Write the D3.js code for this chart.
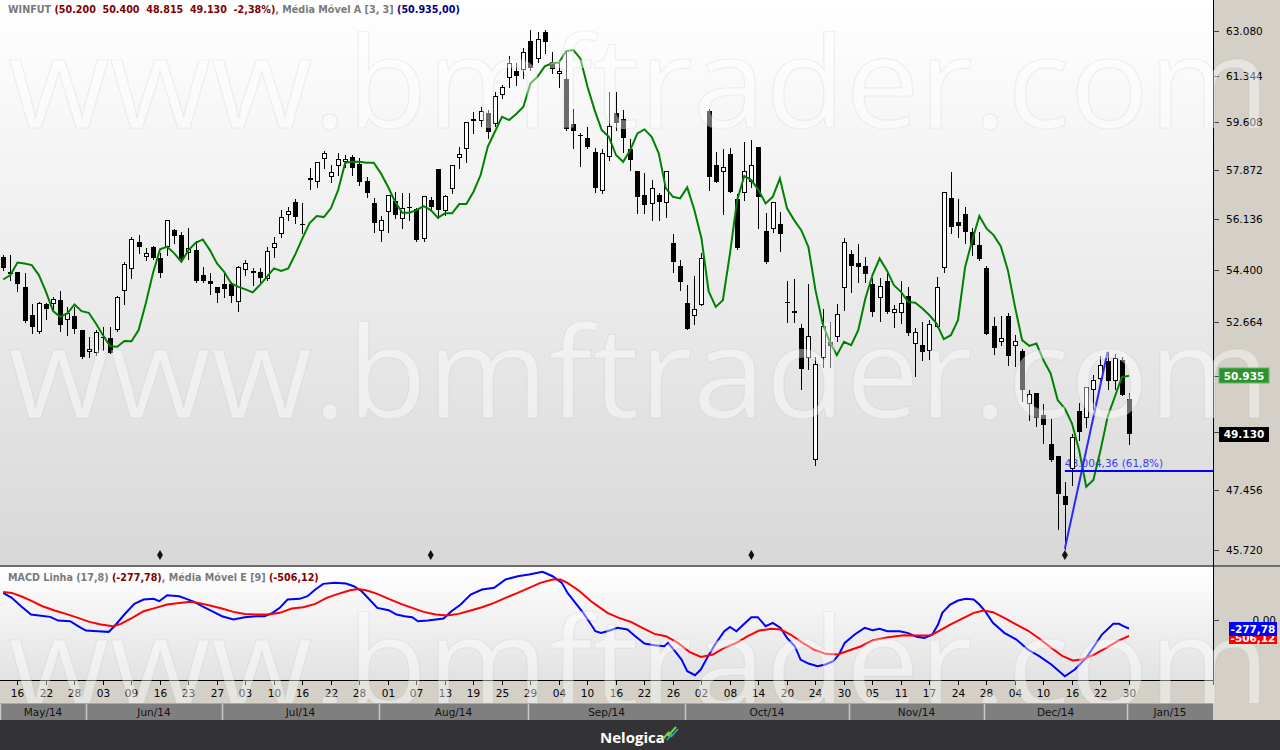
<!DOCTYPE html>
<html><head><meta charset="utf-8">
<script src="https://cdn.jsdelivr.net/npm/d3@7"></script>
<style>html,body{margin:0;padding:0;background:#d4d0c8;overflow:hidden}svg{display:block}</style>
</head><body>
<svg id="chart" width="1280" height="750"></svg>
<script>
// ---------------- DATA ----------------
const dates = ["14/05","15/05","16/05","19/05","20/05","21/05","22/05","23/05","26/05","27/05","28/05","29/05","30/05",
"02/06","03/06","04/06","05/06","06/06","09/06","10/06","11/06","13/06","16/06","17/06","18/06","20/06","23/06","24/06","25/06","26/06","27/06","30/06",
"01/07","02/07","03/07","04/07","07/07","08/07","10/07","11/07","14/07","15/07","16/07","17/07","18/07","21/07","22/07","23/07","24/07","25/07","28/07","29/07","30/07","31/07",
"01/08","04/08","05/08","06/08","07/08","08/08","11/08","12/08","13/08","14/08","15/08","18/08","19/08","20/08","21/08","22/08","25/08","26/08","27/08","28/08","29/08",
"01/09","02/09","03/09","04/09","05/09","08/09","09/09","10/09","11/09","12/09","15/09","16/09","17/09","18/09","19/09","22/09","23/09","24/09","25/09","26/09","29/09","30/09",
"01/10","02/10","03/10","06/10","07/10","08/10","09/10","10/10","13/10","14/10","15/10","16/10","17/10","20/10","21/10","22/10","23/10","24/10","27/10","28/10","29/10","30/10","31/10",
"03/11","04/11","05/11","06/11","07/11","10/11","11/11","12/11","13/11","14/11","17/11","18/11","19/11","21/11","24/11","25/11","26/11","27/11","28/11",
"01/12","02/12","03/12","04/12","05/12","08/12","09/12","10/12","11/12","12/12","15/12","16/12","17/12","18/12","19/12","22/12","23/12","26/12","29/12","30/12"];

const open = [54830,54275,54320,53815,52885,52335,53250,53250,53380,52725,
52855,52400,51685,51655,52170,52140,52400,53680,54420,55340,
54825,55170,54790,55170,55750,55580,54965,55065,54220,54015,
53815,53915,53915,53315,54385,54350,54320,54085,55135,55615,
56275,56730,55960,57500,57440,58265,57605,58010,58155,58335,
58085,57475,56695,55730,56390,56765,56135,56555,56485,55430,
56800,57905,56425,57180,58300,58615,59730,59655,59950,59545,
60625,61255,61535,61570,62690,61980,63030,61865,61410,61230,
59545,59140,59040,58520,57130,58325,59940,59730,58615,57830,
56965,56650,56965,56685,55295,54520,53275,52855,53215,60025,
58035,57795,58435,56825,57035,57450,58690,55705,55775,55950,
53315,53020,52455,51515,48335,51515,52000,52180,53780,54930,
54610,54520,53905,53440,54015,52975,52975,53515,51965,51905,
51730,52505,54445,56860,56020,56310,55695,55235,54445,52525,
52000,52855,51880,51730,50045,50380,49705,48840,48455,47270,
48085,49835,49605,50505,50850,51410,50775,51430,50200];

const high = [54900,54900,54330,54285,53250,53315,53285,53485,53680,53150,
53150,52400,52170,52400,52495,52495,53515,54655,55510,55580,
55135,55200,54965,56100,55785,55685,55820,55375,54485,54285,
53815,54285,53980,54520,54725,54455,54455,55170,55510,56450,
56555,56835,56695,57940,58165,58555,58050,58480,58410,58410,
58300,57625,56870,56240,56975,57095,57045,57045,56520,56940,
56915,57905,56975,58050,58710,59615,60000,60175,60060,60750,
61000,62110,61830,62405,63120,63030,63120,62275,61955,62275,
60090,59200,59420,58650,58615,60750,60750,60060,58980,57830,
57750,57510,57035,57830,55615,54725,53880,54185,54955,60090,
58530,58615,58650,57010,58895,58955,58690,56335,56740,56390,
54015,54085,52615,53905,51535,53075,52670,53250,55465,55065,
55270,54835,54105,54105,54330,53215,54015,53825,52455,52670,
52745,54140,57070,57805,56825,56565,55810,55695,54520,52830,
52855,52965,52235,51775,50485,50380,50065,49600,48455,47690,
49145,50085,50585,50955,51560,51700,51620,51535,50400];

const low = [54385,54050,53690,52660,52300,52300,52755,53085,52365,52235,
52300,51495,51525,51590,51750,51650,52365,53250,54115,54965,
54725,54760,54150,54895,55305,54750,54760,53980,53980,53580,
53315,53485,53315,53020,54220,53880,53980,54050,54825,55510,
56100,55995,55650,57190,57270,57940,57450,57690,57975,57690,
57330,56915,55695,55385,55695,56160,55820,56100,55385,55385,
56450,56160,56275,57035,57950,58165,59220,59470,59015,59470,
60525,60935,61000,61255,61570,61890,62215,61445,60935,59320,
58650,58025,58650,57095,57035,58230,59320,58530,57870,56335,
56335,56100,56100,56195,54330,53735,52420,52615,53215,57155,
57450,56310,57095,55110,56800,57270,55810,54635,55695,55040,
52650,52650,50535,51165,48185,51200,51200,52050,53050,53660,
53995,53995,52855,52700,52965,52485,52635,52235,50925,51430,
51465,52505,54330,55660,55520,55315,54895,54725,52260,51645,
51905,51270,51260,50150,49550,49375,48855,48300,46330,45760,
47590,48940,49345,49910,50795,50535,50535,50325,48815];

const close = [54460,54330,53915,52690,52495,53285,53085,53415,52560,52955,
52430,51525,51785,52335,52155,51655,53485,54590,55440,55170,
54965,54790,54285,56100,55545,54760,55135,54015,54015,53915,
53615,53750,53515,54485,54620,54285,54115,55030,55305,56205,
56415,56205,55925,57590,58155,58480,57805,58265,58265,57940,
57450,57035,56005,56100,56975,56275,56520,56560,55405,56940,
56565,56450,56940,58050,58445,59615,59665,60025,59235,60600,
60915,61830,61355,62275,61635,62755,62665,61600,61535,59345,
59295,59120,58710,57235,58470,59470,59570,59040,58230,56895,
56625,57215,56730,57830,54665,53995,52420,53075,54780,57625,
57450,57965,57095,55145,57845,58035,56895,54665,56740,55605,
53300,52945,51165,52210,51295,52535,51890,52910,55330,54530,
54475,54240,52995,53850,52995,53085,53275,52310,52325,51695,
52615,53825,57070,55845,55880,55695,55235,54750,52260,51825,
52150,51570,52050,50505,50360,49620,49420,48335,47345,47005,
49040,49195,50585,50795,51270,50775,51515,50330,49130];

// Média Móvel A [3,3]
const ma33 = [54070,54220,54645,54610,54555,54220,53660,53020,52830,52945,
53240,53020,52965,52615,52235,51880,51860,52050,52040,52400,
53275,54275,55090,55180,54955,54665,55065,55315,55430,55065,
54610,54330,53940,53825,53740,53640,53880,54160,54445,54360,
54445,54930,55475,55995,56240,56205,56520,57155,58130,58165,
58165,58130,58130,57750,57270,56740,56355,56355,56450,56590,
56450,56180,56335,56335,56660,56660,57095,57690,58710,59260,
59810,59690,59915,60185,61065,61320,61710,61830,61855,62300,
62340,62015,60935,60060,59320,59075,58410,58165,58590,59200,
59345,59075,58470,57215,56915,56860,57250,56450,55465,53680,
53160,53380,54955,56800,57655,57510,57155,56685,56915,57570,
56510,56100,55750,55180,53715,52615,52020,51590,52020,51910,
52400,53440,54220,54780,54385,53880,53660,53325,53295,53110,
52885,52615,52105,52235,52725,54495,55405,56240,55810,55580,
55200,54385,53160,52075,51890,51965,51430,51010,50170,49915,
49450,48635,47550,47750,48635,49655,50270,50895,50935];

// MACD Linha (17,8): [position (date index), value]
const macdLine = [[0,826],[1.2,672],[2.5,413],[3.9,155],[5,124],[6.6,83],[7.7,-31],[9.4,-52],[10.5,-207],[11.6,-341],[13.2,-362],[14.8,-382],[15.6,-207],[17,155],[18.4,486],[19.7,620],[21.1,641],[21.9,568],[23,754],[24.7,723],[25.7,641],[26.8,548],[27.9,413],[29.3,258],[30.7,103],[32.3,0],[33.9,72],[35.6,103],[36.7,103],[37.8,207],[38.8,362],[39.9,620],[41.6,641],[42.7,723],[43.8,930],[44.9,1106],[46.5,1137],[48.1,1116],[49.2,1033],[50.3,878],[51.4,620],[52.5,362],[54.1,289],[55.2,155],[56.3,103],[57.4,72],[58.2,-52],[59.6,-31],[61.8,31],[62.9,258],[64.2,465],[65.6,775],[67.2,930],[68.9,982],[70.5,1240],[72.2,1343],[73.8,1395],[75.7,1478],[77.1,1343],[78.4,1137],[79.2,826],[80.3,516],[81.4,207],[82.5,-155],[83.1,-362],[83.9,-413],[84.8,-362],[86.2,-258],[87.6,-310],[88.7,-516],[90,-744],[91.4,-796],[92.8,-827],[93.3,-723],[94.1,-930],[95.2,-1240],[96,-1602],[97.1,-1726],[97.9,-1550],[98.8,-1188],[99.9,-775],[101.2,-362],[102,-227],[102.9,-362],[103.9,-155],[105,72],[105.9,72],[107,-207],[108,-103],[109.1,-258],[110,-568],[111.1,-827],[111.9,-1240],[113,-1364],[114.3,-1447],[115.4,-1395],[116.5,-1292],[117.3,-1085],[118.1,-723],[119.5,-465],[120.9,-258],[122,-331],[123,-289],[124.1,-362],[125.8,-362],[126.9,-413],[128.2,-537],[129.3,-568],[130.4,-465],[131.2,-155],[131.8,207],[132.9,465],[134,589],[135.1,641],[136.2,620],[137,465],[137.8,258],[138.9,-103],[140.5,-413],[142.2,-620],[143.8,-930],[145.4,-1137],[147.1,-1395],[149,-1757],[150.4,-1550],[152,-1188],[153.1,-827],[154.2,-465],[155.8,-134],[156.6,-134],[157.2,-207],[158,-277.78]];

// Média Móvel E [9] of MACD: [position, value]
const macdSignal = [[0,857],[1.2,826],[2.5,723],[3.9,589],[5.5,413],[7.2,279],[8.8,175],[10.5,52],[12.1,-72],[13.7,-155],[15.4,-207],[16.5,-134],[18.1,52],[19.7,258],[21.4,362],[23,465],[24.7,516],[26.3,548],[27.4,516],[29,434],[30.7,341],[32.3,238],[33.9,175],[35.6,155],[37.2,155],[38.8,207],[40.5,341],[42.1,382],[43.8,486],[45.4,672],[47,795],[48.7,909],[49.8,950],[50.9,909],[52.5,795],[54.1,641],[55.8,486],[57.4,362],[59,238],[60.7,155],[62.3,124],[63.9,175],[65.6,279],[67.2,382],[68.9,516],[70.5,672],[72.2,826],[73.8,982],[75.4,1137],[77.1,1240],[78.2,1240],[79.2,1137],[80.9,878],[82.5,568],[83.8,362],[84.8,207],[86.4,52],[88.1,-72],[89.7,-258],[91.4,-444],[93,-516],[94.7,-723],[96.3,-1002],[97.9,-1158],[99.6,-1085],[101.2,-878],[102.9,-723],[104.5,-516],[106.1,-341],[107.8,-289],[109.1,-310],[110.5,-465],[112.2,-723],[113.8,-930],[115.4,-1064],[117.1,-1085],[118.7,-961],[120.4,-827],[122,-651],[124.2,-548],[126.4,-486],[128,-496],[130.2,-486],[131.3,-362],[132.9,-155],[134.6,31],[136.2,207],[137.6,279],[138.9,227],[140.5,52],[142.2,-155],[143.8,-341],[145.4,-589],[147.1,-878],[148.7,-1137],[150.1,-1271],[151.5,-1240],[153.1,-1085],[154.8,-878],[156.4,-672],[158,-506.12]];

const priceTicks = [45720,47456,49192,50928,52664,54400,56136,57872,59608,61344,63080];
const macdTicks = [0];
const dateTickLabels = ["16","22","28","03","09","16","23","27","03","10","16","22","28","01","07","13","19","25","29","04","10","16","22","26","02","08","14","20","24","30","05","11","17","24","28","04","10","16","22","30"];
const monthLabels = ["May/14","Jun/14","Jul/14","Aug/14","Sep/14","Oct/14","Nov/14","Dec/14","Jan/15"];
const eventMarkers = [22,60,105,149];
// Fibonacci retracement drawing
const fibFrom = [149,45760];
const fibTo = [155,51700];
const fibLevel = 48004.36;
const fibPct = "61,8%";

// ---------------- CHART ----------------
const svg = d3.select('#chart');
const W = 1280, H = 750, PR = 1213;
const loc = d3.formatLocale({decimal:",", thousands:".", grouping:[3], currency:["R$",""], minus:"-"});
const fmtInt = loc.format(",.0f");
const fmt2 = loc.format(",.2f");
const FONT = "'DejaVu Sans', Verdana, sans-serif";

const x = d3.scaleLinear().domain([-0.456, 169.79]).range([0, PR]);
const y = d3.scaleLog().domain([45720, 63080]).range([550, 31]);
const ym = d3.scaleLinear().domain([-1800, 1700]).range([677.6, 564.7]);

const defs = svg.append('defs');
function grad(id, c2){
  const g = defs.append('linearGradient').attr('id', id).attr('x1',0).attr('y1',0).attr('x2',0).attr('y2',1);
  g.append('stop').attr('offset','0%').attr('stop-color','#ffffff');
  g.append('stop').attr('offset','100%').attr('stop-color',c2);
}
grad('gPrice', '#d8d8d8');
grad('gMacd', '#e2e2e2');
defs.append('clipPath').attr('id','cPrice').append('rect').attr('x',0).attr('y',0).attr('width',PR).attr('height',565);
defs.append('clipPath').attr('id','cMacd').append('rect').attr('x',0).attr('y',567).attr('width',PR).attr('height',113);
defs.append('clipPath').attr('id','cWm').append('rect').attr('x',0).attr('y',0).attr('width',W).attr('height',703);

// backgrounds
svg.append('rect').attr('width',W).attr('height',H).attr('fill','#d4d0c8');
svg.append('rect').attr('x',0).attr('y',0).attr('width',PR).attr('height',565).attr('fill','url(#gPrice)');
svg.append('rect').attr('x',0).attr('y',567).attr('width',PR).attr('height',113).attr('fill','url(#gMacd)');
svg.append('rect').attr('x',0).attr('y',565).attr('width',W).attr('height',2).attr('fill','#6e6e6e');
svg.append('line').attr('x1',PR+0.5).attr('x2',PR+0.5).attr('y1',0).attr('y2',685).attr('stroke','#000');
svg.append('line').attr('x1',0).attr('x2',PR+1).attr('y1',680.5).attr('y2',680.5).attr('stroke','#000');

// right price axis
const ax = svg.append('g');
priceTicks.forEach(v => {
  const yy = Math.round(y(v)) + 0.5;
  ax.append('line').attr('x1',PR+1).attr('x2',PR+6).attr('y1',yy).attr('y2',yy).attr('stroke','#444');
  ax.append('text').attr('x',1226).attr('y',yy).attr('dy','0.35em').attr('font-family',FONT).attr('font-size',10.5).attr('fill','#000').text(fmtInt(v));
});
macdTicks.forEach(v => {
  const yy = Math.round(ym(v)) + 0.5;
  ax.append('line').attr('x1',PR+1).attr('x2',PR+6).attr('y1',yy).attr('y2',yy).attr('stroke','#444');
  ax.append('text').attr('x',1276).attr('y',yy).attr('dy','0.35em').attr('text-anchor','end').attr('font-family',FONT).attr('font-size',10.5).attr('fill','#000').text(d3.format('.2f')(v));
});

// date axis
const dg = svg.append('g');
dateTickLabels.forEach((t, j) => {
  const k = 2 + 4*j;
  const xx = Math.round(x(k)) + 0.5;
  dg.append('line').attr('x1',xx).attr('x2',xx).attr('y1',681).attr('y2',685).attr('stroke','#000');
  dg.append('text').attr('x',xx).attr('y',693).attr('dy','0.35em').attr('text-anchor','middle').attr('font-family',FONT).attr('font-size',10.5).attr('fill','#000').text(t);
});
// month bands
const monthStarts = [0];
for (let k = 1; k < dates.length; k++) if (dates[k].slice(3) !== dates[k-1].slice(3)) monthStarts.push(k);
monthStarts.push(dates.length);
monthLabels.forEach((m, j) => {
  const x0 = j === 0 ? 0 : Math.round(x(monthStarts[j] - 1.33));
  const x1 = j === monthLabels.length - 1 ? PR : Math.round(x(monthStarts[j+1] - 1.33));
  dg.append('rect').attr('x',x0).attr('y',703).attr('width',x1-x0).attr('height',17).attr('fill','#7f7f7f');
  dg.append('line').attr('x1',x0+0.5).attr('x2',x0+0.5).attr('y1',703).attr('y2',720).attr('stroke','#c8c8c8').attr('stroke-width',1.5);
  dg.append('text').attr('x',(x0+x1)/2).attr('y',712).attr('dy','0.35em').attr('text-anchor','middle').attr('font-family',FONT).attr('font-size',10.5).attr('fill','#111').text(m);
});
dg.append('line').attr('x1',0).attr('x2',PR).attr('y1',703.5).attr('y2',703.5).attr('stroke','#a8a8a8');

// price panel content
const pg = svg.append('g').attr('clip-path','url(#cPrice)');

// fib text (behind candles)
pg.append('text').attr('x',x(fibFrom[0])).attr('y',y(fibLevel)-4).attr('font-family',FONT).attr('font-size',10.5).attr('fill','#3a3aff')
  .text(fmt2(fibLevel) + ' (' + fibPct + ')');

// candles
const cg = pg.append('g');
dates.forEach((d, k) => {
  const cx = Math.round(x(k));
  const o = open[k], c = close[k], h = high[k], l = low[k];
  const up = c >= o;
  cg.append('line').attr('x1',cx+0.5).attr('x2',cx+0.5).attr('y1',Math.round(y(h))).attr('y2',Math.round(y(l))+1).attr('stroke','#000');
  const top = Math.round(y(Math.max(o,c))), bot = Math.round(y(Math.min(o,c)));
  if (up) {
    if (bot - top < 2) {
      cg.append('rect').attr('x',cx-2).attr('y',top).attr('width',5).attr('height',Math.max(1,bot-top+1)).attr('fill','#000');
    } else {
      cg.append('rect').attr('x',cx-1.5).attr('y',top+0.5).attr('width',4).attr('height',bot-top-1).attr('fill','#fff').attr('stroke','#000');
    }
  } else {
    cg.append('rect').attr('x',cx-2).attr('y',top).attr('width',5).attr('height',Math.max(1,bot-top)).attr('fill','#000');
  }
});

// moving average
pg.append('path').datum(ma33).attr('fill','none').attr('stroke','#008000').attr('stroke-width',2)
  .attr('d', d3.line().x((v,k)=>x(k)).y(v=>y(v)));

// fib lines
pg.append('line').attr('x1',x(fibFrom[0])).attr('y1',y(fibFrom[1])).attr('x2',x(fibTo[0])).attr('y2',y(fibTo[1]))
  .attr('stroke','#2a2aff').attr('stroke-width',2);
pg.append('line').attr('x1',x(fibFrom[0])).attr('x2',PR).attr('y1',Math.round(y(fibLevel))).attr('y2',Math.round(y(fibLevel)))
  .attr('stroke','#0000ff').attr('stroke-width',2);

// event markers
pg.selectAll('path.ev').data(eventMarkers).enter().append('path').attr('class','ev')
  .attr('transform', k => `translate(${x(k)},555)`).attr('d', d3.symbol(d3.symbolDiamond, 30)()).attr('fill','#111');

// MACD lines
const mg = svg.append('g').attr('clip-path','url(#cMacd)');
const ml = d3.line().x(p=>x(p[0])).y(p=>ym(p[1]));
mg.append('path').datum(macdLine).attr('fill','none').attr('stroke','#0000ff').attr('stroke-width',2).attr('d',ml);
mg.append('path').datum(macdSignal).attr('fill','none').attr('stroke','#ff0000').attr('stroke-width',2).attr('d',ml);

// watermark
const wm = svg.append('g').attr('clip-path','url(#cWm)');
[128, 418, 708].forEach(by => {
  wm.append('text').attr('x',8).attr('y',by).attr('font-family',"'Open Sans', sans-serif").attr('font-size',126)
    .attr('textLength',1262).attr('lengthAdjust','spacingAndGlyphs')
    .attr('fill','#ffffff').attr('fill-opacity',0.42).attr('stroke','#9a9a9a').attr('stroke-opacity',0.13).attr('stroke-width',1.2)
    .text('www.bmftrader.com');
});

// value boxes on right axis
const last = dates.length - 1;
function box(xb, yc, w, h, fill, txt, stroke){
  svg.append('rect').attr('x',xb).attr('y',Math.round(yc - h/2)).attr('width',w).attr('height',h).attr('fill',fill).attr('stroke',stroke||'none');
  svg.append('text').attr('x',xb + w/2).attr('y',yc).attr('dy','0.36em').attr('text-anchor','middle').attr('font-family',FONT).attr('font-weight','bold').attr('font-size',10.5).attr('fill','#fff').text(txt);
}
box(1219, y(ma33[last]), 50, 15, '#2e922e', fmtInt(ma33[last]), '#62b862');
box(1219, y(close[last]), 50, 15, '#000', fmtInt(close[last]));
const sigLast = macdSignal[macdSignal.length-1][1], macdLast = macdLine[macdLine.length-1][1];
box(1229, ym(sigLast)+2, 48, 13, '#ff0000', fmt2(sigLast));
box(1229, ym(macdLast)+1, 48, 14, '#0000ff', fmt2(macdLast));

// headers
const pct = (close[last]/close[last-1] - 1) * 100;
const h1 = svg.append('text').attr('x',8).attr('y',13).attr('font-family',FONT).attr('font-weight','bold').attr('font-size',9.6).attr('xml:space','preserve').style('white-space','pre');
h1.append('tspan').attr('fill','#7a7a7a').text('WINFUT ');
h1.append('tspan').attr('fill','#800000').text('(' + [open[last],high[last],low[last],close[last]].map(fmtInt).join('  ') + '  ' + loc.format('.2f')(pct) + '%)');
h1.append('tspan').attr('fill','#7a7a7a').text(', Média Móvel A [3, 3] ');
h1.append('tspan').attr('fill','#000080').text('(' + fmt2(ma33[last]) + ')');

const h2 = svg.append('text').attr('x',8).attr('y',581).attr('font-family',FONT).attr('font-weight','bold').attr('font-size',9.6).attr('xml:space','preserve').style('white-space','pre');
h2.append('tspan').attr('fill','#7a7a7a').text('MACD Linha (17,8) ');
h2.append('tspan').attr('fill','#800000').text('(' + fmt2(macdLast) + ')');
h2.append('tspan').attr('fill','#7a7a7a').text(', Média Móvel E [9] ');
h2.append('tspan').attr('fill','#800000').text('(' + fmt2(sigLast) + ')');

// bottom bar
svg.append('rect').attr('x',0).attr('y',720).attr('width',W).attr('height',30).attr('fill','#333335');
svg.append('text').attr('x',600).attr('y',743).attr('font-family',"'Open Sans', sans-serif").attr('font-weight','bold').attr('font-size',15).attr('fill','#ffffff').text('Nelogica');
svg.append('circle').attr('cx',660).attr('cy',742).attr('r',1.2).attr('fill','#fff');
svg.append('polyline').attr('points','663,739 669,732 668,736 676,727').attr('fill','none').attr('stroke','#7ccf3a').attr('stroke-width',2);
svg.append('polyline').attr('points','667,740 672,734 671,737 678,729').attr('fill','none').attr('stroke','#2aa9e0').attr('stroke-width',1.5);
</script>
</body></html>
